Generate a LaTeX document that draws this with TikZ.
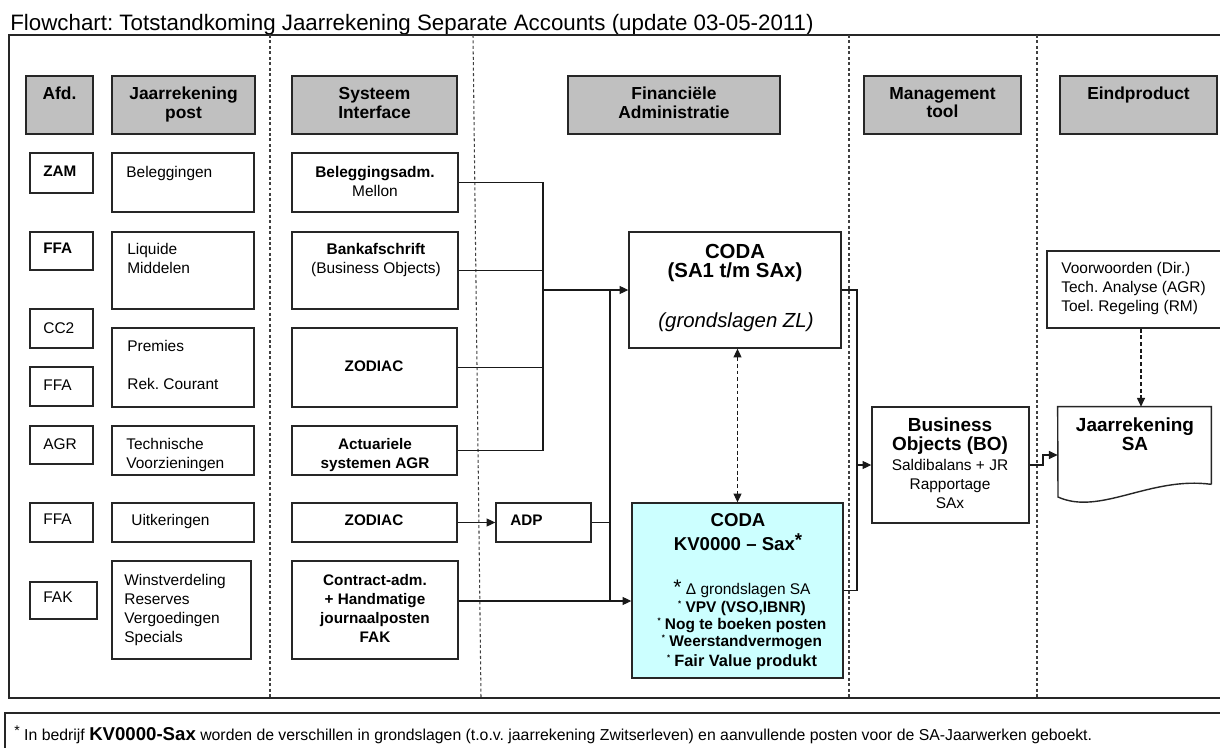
\documentclass[tikz,border=0pt]{standalone}
\usepackage{fontspec}
\setmainfont{Liberation Sans}
\usetikzlibrary{arrows.meta,fit}
\definecolor{headgray}{HTML}{C0C0C0}
\definecolor{kvcyan}{HTML}{CCFFFF}
\newcommand{\smallstar}{\raisebox{0.7ex}{\fontsize{4.5}{5}\selectfont *}}
\frenchspacing
\begin{document}
\begin{tikzpicture}[x=0.02cm,y=-0.02cm,
    box/.style={draw=black!85, line width=0.8pt, fill=white, inner sep=0pt, fit={#1}},
    head/.style={box={#1}, fill=headgray},
    lane/.style={draw=black!75, line width=0.6pt, dash pattern=on 1.7pt off 1.4pt},
    conn/.style={draw=black!90, line width=0.6pt},
    arr/.style={conn, -{Triangle[length=5pt,width=4.6pt]}},
    darr/.style={arr, dash pattern=on 2.2pt off 1.6pt},
    dasharr/.style={darr, {Triangle[length=5pt,width=4.6pt]}-{Triangle[length=5pt,width=4.6pt]}},
    txt/.style={inner sep=0pt, font=\fontsize{8.8}{10.8}\selectfont},
    btxt/.style={inner sep=0pt, font=\fontsize{8.7}{10.8}\selectfont\bfseries},
    htxt/.style={inner sep=0pt, align=center, anchor=north, font=\fontsize{9.9}{10.6}\selectfont\bfseries},
    big/.style={inner sep=0pt, align=center, anchor=north, font=\fontsize{10.8}{11.3}\selectfont\bfseries}]
\useasboundingbox (0,0) rectangle (1220,747);
\clip (0,0) rectangle (1220,747);

\node[inner sep=0pt, anchor=base west, font=\fontsize{12.7}{14}\selectfont] (title) at (10,31) {Flowchart: Totstandkoming Jaarrekening Separate Accounts (update 03-05-2011)};
\draw[line width=0.8pt, draw=black!85] (9,35) rectangle (1240,698);
\draw[line width=0.8pt, draw=black!85] (5,713) rectangle (1240,760);

\draw[lane] (270,35) -- (270,698);
\draw[lane] (473,35) -- (481,698);
\draw[lane] (849,35) -- (849,698);
\draw[lane] (1037,35) -- (1037,698);

\node[head={(26,76)(93,134)}] (h1) {};
\node[htxt] (h1t) at (59.5,87) {Afd.};
\node[head={(112,76)(255,134)}] (h2) {};
\node[htxt] (h2t) at (183.5,87) {Jaarrekening\\post};
\node[head={(292,76)(457,134)}] (h3) {};
\node[htxt] (h3t) at (374.5,87) {Systeem\\Interface};
\node[head={(568,76)(780,134)}] (h4) {};
\node[htxt] (h4t) at (674,87) {Financiële\\Administratie};
\node[head={(864,76)(1021,134)}] (h5) {};
\node[htxt] (h5t) at (942.5,87) {Management\\tool};
\node[head={(1060,76)(1217,134)}] (h6) {};
\node[htxt] (h6t) at (1138.5,87) {Eindproduct};

\node[box={(30,153)(93,193)}] (a1) {};
\node[btxt, anchor=north west] (a1t) at (43,166) {ZAM};
\node[box={(30,232)(93,270)}] (a2) {};
\node[btxt, anchor=north west] (a2t) at (43,243) {FFA};
\node[box={(30,309)(93,348)}] (a3) {};
\node[txt, anchor=north west] (a3t) at (43,322) {CC2};
\node[box={(30,367)(93,406)}] (a4) {};
\node[txt, anchor=north west] (a4t) at (43,380) {FFA};
\node[box={(30,426)(93,464)}] (a5) {};
\node[txt, anchor=north west] (a5t) at (43,438) {AGR};
\node[box={(30,503)(93,542)}] (a6) {};
\node[txt, anchor=north west] (a6t) at (43,514) {FFA};
\node[box={(30,582)(97,619)}] (a7) {};
\node[txt, anchor=north west] (a7t) at (43,592) {FAK};

\node[box={(112,153)(254,212)}] (p1) {};
\node[txt, anchor=north west] (p1t) at (126,166) {Beleggingen};
\node[box={(112,232)(254,309)}] (p2) {};
\node[txt, anchor=north west, align=left] (p2t) at (127,243) {Liquide\\Middelen};
\node[box={(112,328)(254,407)}] (p3) {};
\node[txt, anchor=north west, align=left] (p3t) at (127,340) {Premies\\[10.7pt]Rek. Courant};
\node[box={(112,426)(254,475)}] (p4) {};
\node[txt, anchor=north west, align=left] (p4t) at (126,438) {Technische\\Voorzieningen};
\node[box={(112,503)(254,542)}] (p5) {};
\node[txt, anchor=north west] (p5t) at (131,514) {Uitkeringen};
\node[box={(112,561)(251,659)}] (p6) {};
\node[txt, anchor=north west, align=left] (p6t) at (124,574) {Winstverdeling\\Reserves\\Vergoedingen\\Specials};

\node[box={(292,153)(458,212)}] (s1) {};
\node[txt, anchor=north, align=center] (s1t) at (375,166) {\textbf{Beleggingsadm.}\\Mellon};
\node[box={(292,232)(458,309)}] (s2) {};
\node[txt, anchor=north, align=center] (s2t) at (376,243) {\textbf{Bankafschrift}\\(Business Objects)};
\node[box={(292,328)(457,407)}] (s3) {};
\node[btxt, anchor=north] (s3t) at (374,360) {ZODIAC};
\node[box={(292,426)(457,475)}] (s4) {};
\node[btxt, anchor=north, align=center] (s4t) at (375,438) {Actuariele\\systemen AGR};
\node[box={(292,503)(457,542)}] (s5) {};
\node[btxt, anchor=north] (s5t) at (374,514) {ZODIAC};
\node[box={(292,561)(458,659)}] (s6) {};
\node[btxt, anchor=north, align=center] (s6t) at (375,574) {Contract-adm.\\+ Handmatige\\journaalposten\\FAK};

\node[box={(496,503)(591,542)}] (adp) {};
\node[btxt, anchor=north west] (adpt) at (510,515) {ADP};

\node[box={(629,232)(841,348)}] (coda) {};
\node[inner sep=0pt, align=center, anchor=north, font=\fontsize{11.6}{10.8}\selectfont\bfseries] (codat) at (735,244) {CODA\\(SA1 t/m SAx)};
\node[inner sep=0pt, anchor=north, font=\fontsize{11.6}{13}\selectfont\itshape] (codazl) at (736,312) {(grondslagen ZL)};

\node[box={(632,503)(843,678)}, fill=kvcyan] (kv) {};
\node[inner sep=0pt, align=center, anchor=north, font=\fontsize{10.6}{13.6}\selectfont\bfseries] (kvt) at (738,513) {CODA\\KV0000 -- Sax\raisebox{0.35ex}{*}};
\node[txt, align=center, anchor=north, font=\fontsize{8.8}{9.8}\selectfont] (kvl) at (742,580) {{\fontsize{12}{12}\selectfont *} Δ grondslagen SA\\
  \textbf{\smallstar{} VPV (VSO,IBNR)}\\
  \textbf{\smallstar{} Nog te boeken posten}\\
  \textbf{\smallstar{} Weerstandvermogen}\\[1.5pt]
  \textbf{\smallstar{} {\fontsize{9.3}{10}\selectfont Fair Value produkt}}};

\node[box={(872,407)(1029,523)}] (bo) {};
\node[big] (bot) at (950,417) {Business\\Objects (BO)};
\node[txt, align=center, anchor=north] (bos) at (950,459) {Saldibalans + JR\\Rapportage\\SAx};

\node[inner sep=0pt, fit={(1058,407)(1211,484)}] (jr) {};
\draw[line width=0.8pt, draw=black!85, fill=white] (jr.south east) -- (jr.north east) -- (jr.north west) -- (1058,497) .. controls (1100,516) and (1150,476) .. (jr.south east);
\node[big] (jrt) at (1135,417) {Jaarrekening\\SA};

\node[box={(1047,251)(1235,328)}] (vw) {};
\node[txt, align=left, anchor=north west] (vwt) at (1061,262) {Voorwoorden (Dir.)\\Tech. Analyse (AGR)\\Toel. Regeling (RM)};

\coordinate (j1) at (543,290);
\draw[conn] (s1.east) -| (j1);
\draw[conn] (s4.east) -| (j1);
\draw[conn] (s2.east) -- (s2.east -| j1);
\draw[conn] (s3.east) -- (s3.east -| j1);
\draw[arr] (j1) -- (coda.west);
\coordinate (j2) at (610,290);
\coordinate (j3) at (610,601);
\draw[conn] (j2) -- (j3);
\draw[conn] (adp.east) -- (adp.east -| j2);
\draw[arr] (s5.east) -- (adp.west);
\draw[arr] (s6.east |- j3) -- (kv.west |- j3);
\draw[dasharr] (kv.north |- coda.south) -- (kv.north);
\coordinate (j4) at (857,290);
\draw[conn] (coda.east) -- (j4) |- (kv.east);
\draw[arr] (bo.west -| j4) -- (bo.west);
\coordinate (j5) at (1043,455);
\draw[arr] (bo.east) -| (j5) -- (j5 -| jr.west);
\draw[darr] (vw.south) -- (vw.south |- jr.north);

\node[txt, anchor=base west, font=\fontsize{9}{11}\selectfont] (note) at (14,740) {\raisebox{0.5ex}{\fontsize{8}{8}\selectfont *} In bedrijf {\fontsize{10.6}{12}\selectfont\bfseries KV0000-Sax} worden de verschillen in grondslagen (t.o.v. jaarrekening Zwitserleven) en aanvullende posten voor de SA-Jaarwerken geboekt.};
\end{tikzpicture}
\end{document}
